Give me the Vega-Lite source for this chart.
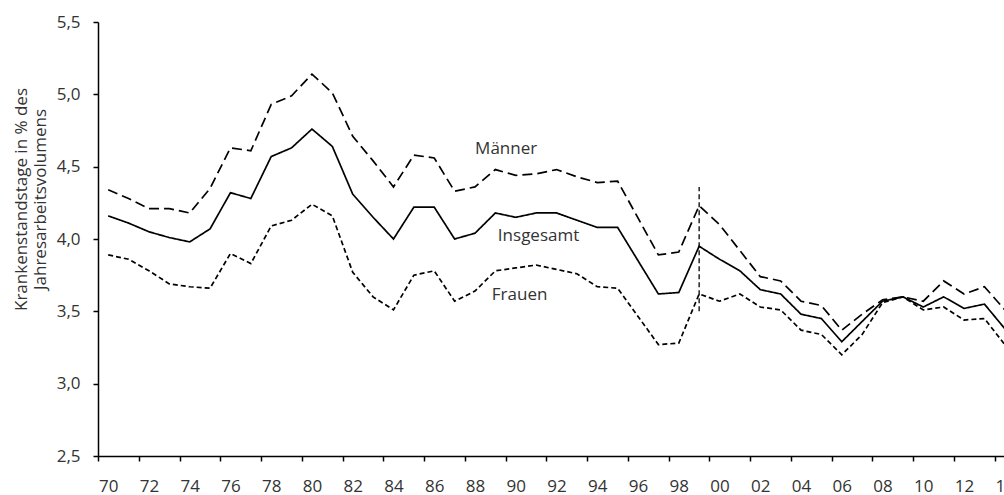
{
  "$schema": "https://vega.github.io/schema/vega-lite/v6.json",
  "width": 906,
  "height": 434,
  "autosize": {"type": "none"},
  "padding": {"left": 98, "top": 22, "right": 0, "bottom": 39},
  "background": "white",
  "config": {"view": {"stroke": null}, "font": "Open Sans"},
  "datasets": {
    "series": [
      {"year": 1970, "series": "Männer", "value": 4.34},
      {"year": 1971, "series": "Männer", "value": 4.28},
      {"year": 1972, "series": "Männer", "value": 4.21},
      {"year": 1973, "series": "Männer", "value": 4.21},
      {"year": 1974, "series": "Männer", "value": 4.18},
      {"year": 1975, "series": "Männer", "value": 4.35},
      {"year": 1976, "series": "Männer", "value": 4.63},
      {"year": 1977, "series": "Männer", "value": 4.61},
      {"year": 1978, "series": "Männer", "value": 4.93},
      {"year": 1979, "series": "Männer", "value": 4.99},
      {"year": 1980, "series": "Männer", "value": 5.14},
      {"year": 1981, "series": "Männer", "value": 5.01},
      {"year": 1982, "series": "Männer", "value": 4.71},
      {"year": 1983, "series": "Männer", "value": 4.54},
      {"year": 1984, "series": "Männer", "value": 4.36},
      {"year": 1985, "series": "Männer", "value": 4.58},
      {"year": 1986, "series": "Männer", "value": 4.56},
      {"year": 1987, "series": "Männer", "value": 4.33},
      {"year": 1988, "series": "Männer", "value": 4.36},
      {"year": 1989, "series": "Männer", "value": 4.48},
      {"year": 1990, "series": "Männer", "value": 4.44},
      {"year": 1991, "series": "Männer", "value": 4.45},
      {"year": 1992, "series": "Männer", "value": 4.48},
      {"year": 1993, "series": "Männer", "value": 4.43},
      {"year": 1994, "series": "Männer", "value": 4.39},
      {"year": 1995, "series": "Männer", "value": 4.40},
      {"year": 1997, "series": "Männer", "value": 3.89},
      {"year": 1998, "series": "Männer", "value": 3.91},
      {"year": 1999, "series": "Männer", "value": 4.23},
      {"year": 2000, "series": "Männer", "value": 4.10},
      {"year": 2001, "series": "Männer", "value": 3.92},
      {"year": 2002, "series": "Männer", "value": 3.74},
      {"year": 2003, "series": "Männer", "value": 3.71},
      {"year": 2004, "series": "Männer", "value": 3.57},
      {"year": 2005, "series": "Männer", "value": 3.54},
      {"year": 2006, "series": "Männer", "value": 3.37},
      {"year": 2007, "series": "Männer", "value": 3.48},
      {"year": 2008, "series": "Männer", "value": 3.58},
      {"year": 2009, "series": "Männer", "value": 3.60},
      {"year": 2010, "series": "Männer", "value": 3.57},
      {"year": 2011, "series": "Männer", "value": 3.71},
      {"year": 2012, "series": "Männer", "value": 3.62},
      {"year": 2013, "series": "Männer", "value": 3.67},
      {"year": 2014, "series": "Männer", "value": 3.51},
      {"year": 1970, "series": "Insgesamt", "value": 4.16},
      {"year": 1971, "series": "Insgesamt", "value": 4.11},
      {"year": 1972, "series": "Insgesamt", "value": 4.05},
      {"year": 1973, "series": "Insgesamt", "value": 4.01},
      {"year": 1974, "series": "Insgesamt", "value": 3.98},
      {"year": 1975, "series": "Insgesamt", "value": 4.07},
      {"year": 1976, "series": "Insgesamt", "value": 4.32},
      {"year": 1977, "series": "Insgesamt", "value": 4.28},
      {"year": 1978, "series": "Insgesamt", "value": 4.57},
      {"year": 1979, "series": "Insgesamt", "value": 4.63},
      {"year": 1980, "series": "Insgesamt", "value": 4.76},
      {"year": 1981, "series": "Insgesamt", "value": 4.64},
      {"year": 1982, "series": "Insgesamt", "value": 4.31},
      {"year": 1983, "series": "Insgesamt", "value": 4.15},
      {"year": 1984, "series": "Insgesamt", "value": 4.00},
      {"year": 1985, "series": "Insgesamt", "value": 4.22},
      {"year": 1986, "series": "Insgesamt", "value": 4.22},
      {"year": 1987, "series": "Insgesamt", "value": 4.00},
      {"year": 1988, "series": "Insgesamt", "value": 4.04},
      {"year": 1989, "series": "Insgesamt", "value": 4.18},
      {"year": 1990, "series": "Insgesamt", "value": 4.15},
      {"year": 1991, "series": "Insgesamt", "value": 4.18},
      {"year": 1992, "series": "Insgesamt", "value": 4.18},
      {"year": 1993, "series": "Insgesamt", "value": 4.13},
      {"year": 1994, "series": "Insgesamt", "value": 4.08},
      {"year": 1995, "series": "Insgesamt", "value": 4.08},
      {"year": 1997, "series": "Insgesamt", "value": 3.62},
      {"year": 1998, "series": "Insgesamt", "value": 3.63},
      {"year": 1999, "series": "Insgesamt", "value": 3.95},
      {"year": 2000, "series": "Insgesamt", "value": 3.86},
      {"year": 2001, "series": "Insgesamt", "value": 3.78},
      {"year": 2002, "series": "Insgesamt", "value": 3.65},
      {"year": 2003, "series": "Insgesamt", "value": 3.62},
      {"year": 2004, "series": "Insgesamt", "value": 3.48},
      {"year": 2005, "series": "Insgesamt", "value": 3.45},
      {"year": 2006, "series": "Insgesamt", "value": 3.29},
      {"year": 2007, "series": "Insgesamt", "value": 3.43},
      {"year": 2008, "series": "Insgesamt", "value": 3.57},
      {"year": 2009, "series": "Insgesamt", "value": 3.60},
      {"year": 2010, "series": "Insgesamt", "value": 3.53},
      {"year": 2011, "series": "Insgesamt", "value": 3.60},
      {"year": 2012, "series": "Insgesamt", "value": 3.52},
      {"year": 2013, "series": "Insgesamt", "value": 3.55},
      {"year": 2014, "series": "Insgesamt", "value": 3.38},
      {"year": 1970, "series": "Frauen", "value": 3.89},
      {"year": 1971, "series": "Frauen", "value": 3.86},
      {"year": 1972, "series": "Frauen", "value": 3.78},
      {"year": 1973, "series": "Frauen", "value": 3.69},
      {"year": 1974, "series": "Frauen", "value": 3.67},
      {"year": 1975, "series": "Frauen", "value": 3.66},
      {"year": 1976, "series": "Frauen", "value": 3.90},
      {"year": 1977, "series": "Frauen", "value": 3.83},
      {"year": 1978, "series": "Frauen", "value": 4.09},
      {"year": 1979, "series": "Frauen", "value": 4.13},
      {"year": 1980, "series": "Frauen", "value": 4.24},
      {"year": 1981, "series": "Frauen", "value": 4.16},
      {"year": 1982, "series": "Frauen", "value": 3.77},
      {"year": 1983, "series": "Frauen", "value": 3.60},
      {"year": 1984, "series": "Frauen", "value": 3.51},
      {"year": 1985, "series": "Frauen", "value": 3.75},
      {"year": 1986, "series": "Frauen", "value": 3.78},
      {"year": 1987, "series": "Frauen", "value": 3.57},
      {"year": 1988, "series": "Frauen", "value": 3.64},
      {"year": 1989, "series": "Frauen", "value": 3.78},
      {"year": 1990, "series": "Frauen", "value": 3.80},
      {"year": 1991, "series": "Frauen", "value": 3.82},
      {"year": 1992, "series": "Frauen", "value": 3.79},
      {"year": 1993, "series": "Frauen", "value": 3.76},
      {"year": 1994, "series": "Frauen", "value": 3.67},
      {"year": 1995, "series": "Frauen", "value": 3.66},
      {"year": 1997, "series": "Frauen", "value": 3.27},
      {"year": 1998, "series": "Frauen", "value": 3.28},
      {"year": 1999, "series": "Frauen", "value": 3.62},
      {"year": 2000, "series": "Frauen", "value": 3.57},
      {"year": 2001, "series": "Frauen", "value": 3.62},
      {"year": 2002, "series": "Frauen", "value": 3.53},
      {"year": 2003, "series": "Frauen", "value": 3.51},
      {"year": 2004, "series": "Frauen", "value": 3.37},
      {"year": 2005, "series": "Frauen", "value": 3.34},
      {"year": 2006, "series": "Frauen", "value": 3.20},
      {"year": 2007, "series": "Frauen", "value": 3.34},
      {"year": 2008, "series": "Frauen", "value": 3.56},
      {"year": 2009, "series": "Frauen", "value": 3.60},
      {"year": 2010, "series": "Frauen", "value": 3.51},
      {"year": 2011, "series": "Frauen", "value": 3.53},
      {"year": 2012, "series": "Frauen", "value": 3.44},
      {"year": 2013, "series": "Frauen", "value": 3.45},
      {"year": 2014, "series": "Frauen", "value": 3.27}
    ],
    "brk": [{"year": 1999, "lo": 3.50, "hi": 4.36}],
    "labels": [
      {"year": 1989.53, "value": 4.588, "label": "Männer"},
      {"year": 1991.12, "value": 3.984, "label": "Insgesamt"},
      {"year": 1990.19, "value": 3.581, "label": "Frauen"}
    ]
  },
  "layer": [
    {
      "data": {"name": "series"},
      "mark": {"type": "line", "strokeWidth": 1.7, "color": "black"},
      "encoding": {
        "x": {
          "field": "year", "type": "quantitative",
          "scale": {"domain": [1969.5, 2014.5], "range": [0, 917], "nice": false, "zero": false},
          "axis": {
            "values": [1970,1971,1972,1973,1974,1975,1976,1977,1978,1979,1980,1981,1982,1983,1984,1985,1986,1987,1988,1989,1990,1991,1992,1993,1994,1995,1996,1997,1998,1999,2000,2001,2002,2003,2004,2005,2006,2007,2008,2009,2010,2011,2012,2013,2014],
            "tickOffset": -10.19,
            "labelOffset": 10.19,
            "labelExpr": "datum.value % 2 === 0 ? slice(toString(datum.value), 2) : ''",
            "title": null,
            "grid": false,
            "tickSize": 5,
            "tickWidth": 1.5,
            "tickColor": "black",
            "domainColor": "black",
            "domainWidth": 1.5,
            "labelPadding": 17,
            "labelFontSize": 17,
            "labelColor": "#333333",
            "labelOverlap": false,
            "labelFlush": false,
            "labelBound": false
          }
        },
        "y": {
          "field": "value", "type": "quantitative",
          "scale": {"domain": [2.5, 5.5], "nice": false, "zero": false},
          "axis": {
            "values": [2.5, 3, 3.5, 4, 4.5, 5, 5.5],
            "format": ".1f",
            "labelExpr": "replace(datum.label, '.', ',')",
            "title": ["Krankenstandstage in % des", "Jahresarbeitsvolumens"],
            "titleX": -72,
            "titleY": 177,
            "titleAngle": 270,
            "titleBaseline": "alphabetic",
            "titleAlign": "center",
            "titleLineHeight": 19,
            "titleFontSize": 17,
            "titleFontWeight": "normal",
            "titleColor": "#333333",
            "grid": false,
            "tickSize": 5,
            "tickWidth": 1.5,
            "tickColor": "black",
            "domainColor": "black",
            "domainWidth": 1.5,
            "labelPadding": 13,
            "labelFontSize": 17,
            "labelColor": "#333333"
          }
        },
        "strokeDash": {
          "field": "series", "type": "nominal",
          "scale": {"domain": ["Männer", "Insgesamt", "Frauen"], "range": [[10, 5], [1, 0], [5, 3]]},
          "legend": null
        }
      }
    },
    {
      "data": {"name": "brk"},
      "mark": {"type": "rule", "strokeDash": [5, 3], "strokeWidth": 1.3, "color": "black"},
      "encoding": {
        "x": {"field": "year", "type": "quantitative"},
        "y": {"field": "lo", "type": "quantitative"},
        "y2": {"field": "hi"}
      }
    },
    {
      "data": {"name": "labels"},
      "mark": {"type": "text", "fontSize": 17, "color": "#333333", "align": "center", "baseline": "alphabetic"},
      "encoding": {
        "x": {"field": "year", "type": "quantitative"},
        "y": {"field": "value", "type": "quantitative"},
        "text": {"field": "label", "type": "nominal"}
      }
    }
  ]
}
